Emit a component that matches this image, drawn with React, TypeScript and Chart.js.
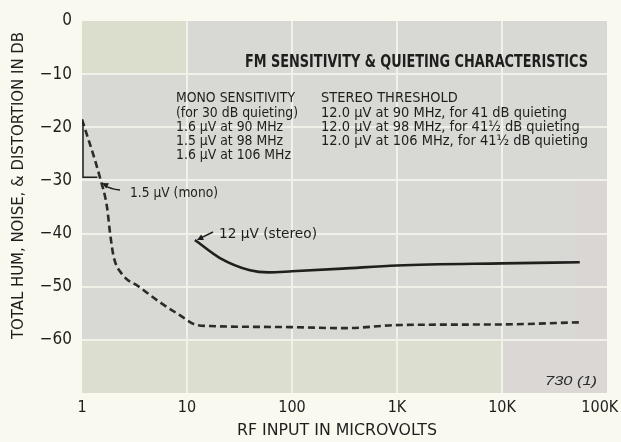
import React, { useEffect, useRef } from 'react';
import { Chart, registerables } from 'chart.js';

Chart.register(...registerables);

// ---- data ----
const xTickValues = [1, 10, 100, 1000, 10000, 100000];
const xTickLabels = ['1', '10', '100', '1K', '10K', '100K\u2003'];
const yTickValues = [0, -10, -20, -30, -40, -50, -60, -70];
const yTickLabels = ['0', '\u221210', '\u221220', '\u221230', '\u221240', '\u221250', '\u221260', ''];

const monoX = [1, 1.48, 1.73, 1.85, 2.0, 2.4, 3.49, 5.5, 8.6, 11.9, 16.6, 95, 317, 1066, 9500, 55000];
const monoY = [-18.5, -29.4, -35, -39.9, -44.3, -47.6, -50.0, -52.9, -55.4, -57.1, -57.4, -57.6, -57.8, -57.2, -57.1, -56.7];

const stereoX = [11.9, 20.6, 39.8, 60, 100, 300, 1000, 10000, 55000];
const stereoY = [-41.2, -44.6, -46.9, -47.3, -47.1, -46.6, -46.0, -45.6, -45.4];

const chartTitle = 'FM SENSITIVITY & QUIETING CHARACTERISTICS';
const monoNotes = [
  'MONO SENSITIVITY',
  '(for 30 dB quieting)',
  '1.6 \u00b5V at 90 MHz',
  '1.5 \u00b5V at 98 MHz',
  '1.6 \u00b5V at 106 MHz',
];
const stereoNotes = [
  'STEREO THRESHOLD',
  '12.0 \u00b5V at 90 MHz, for 41 dB quieting',
  '12.0 \u00b5V at 98 MHz, for 41\u00bd dB quieting',
  '12.0 \u00b5V at 106 MHz, for 41\u00bd dB quieting',
];
const monoLabel = '1.5 \u00b5V (mono)';
const stereoLabel = '12 \u00b5V (stereo)';
const figNumber = '730 (1)';
const xTitle = 'RF INPUT IN MICROVOLTS';
const yTitle = 'TOTAL HUM, NOISE, & DISTORTION IN DB';

const NARROW = "'Liberation Sans Narrow', 'DejaVu Sans Condensed', 'Arial Narrow', sans-serif";
const INK = '#1e1e1c';

function fitText(ctx: CanvasRenderingContext2D, text: string, x: number, y: number, font: string, targetW: number | null, scaleOverride?: number) {
  ctx.font = font;
  const w = ctx.measureText(text).width;
  const s = scaleOverride ?? (targetW ? targetW / w : 1);
  ctx.save();
  ctx.translate(x, y);
  ctx.scale(s, 1);
  ctx.textAlign = 'left';
  ctx.textBaseline = 'middle';
  ctx.fillText(text, 0, 0);
  ctx.restore();
}

function arrowHead(ctx: CanvasRenderingContext2D, fromX: number, fromY: number, toX: number, toY: number, size: number) {
  const ang = Math.atan2(toY - fromY, toX - fromX);
  ctx.beginPath();
  ctx.moveTo(toX, toY);
  ctx.lineTo(toX - size * Math.cos(ang - 0.45), toY - size * Math.sin(ang - 0.45));
  ctx.lineTo(toX - size * Math.cos(ang + 0.45), toY - size * Math.sin(ang + 0.45));
  ctx.closePath();
  ctx.fill();
}

const paperPlugin = {
  id: 'paper',
  beforeDraw(chart: any) {
    const { ctx, chartArea: a, scales } = chart;
    const xs = scales.x;
    const ys = scales.y;
    ctx.save();
    ctx.fillStyle = '#f9f9ef';
    ctx.fillRect(0, 0, chart.width, chart.height);
    ctx.fillStyle = '#d8d8d4';
    ctx.fillRect(a.left, a.top, a.right - a.left, a.bottom - a.top);
    const cell = (x0: number, x1: number, y0: number, y1: number, c: string) => {
      const px0 = xs.getPixelForValue(x0);
      const px1 = xs.getPixelForValue(x1);
      const py0 = ys.getPixelForValue(y0);
      const py1 = ys.getPixelForValue(y1);
      ctx.fillStyle = c;
      ctx.fillRect(px0, py0, px1 - px0, py1 - py0);
    };
    cell(1, 10, 0, -10, '#dcdecd');
    cell(1, 10000, -60, -70, '#dcdecf');
    cell(10000, 100000, -60, -70, '#dbd7d5');
    cell(50000, 100000, -30, -60, '#dad6d4');
    ctx.restore();
  },
  afterDraw(chart: any) {
    const { ctx, scales } = chart;
    const xs = scales.x;
    const ys = scales.y;
    ctx.save();
    ctx.fillStyle = INK;
    ctx.strokeStyle = INK;

    // chart title
    fitText(ctx, chartTitle, 245, 62, `bold 18px ${NARROW}`, 343);

    // note blocks
    const bodyFont = `14px ${NARROW}`;
    ctx.font = bodyFont;
    const sMono = 119 / ctx.measureText(monoNotes[0]).width;
    const sStereo = 267 / ctx.measureText(stereoNotes[3]).width;
    const lineYs = [98, 113, 127, 141, 155];
    monoNotes.forEach((t, i) => fitText(ctx, t, 176, lineYs[i], bodyFont, null, sMono));
    stereoNotes.forEach((t, i) => fitText(ctx, t, 321, lineYs[i], bodyFont, null, sStereo));

    // bracket for mono sensitivity
    ctx.lineWidth = 1.5;
    ctx.beginPath();
    const bx = xs.getPixelForValue(1) + 1;
    ctx.moveTo(bx, ys.getPixelForValue(-19));
    ctx.lineTo(bx, ys.getPixelForValue(-29.4));
    ctx.lineTo(xs.getPixelForValue(1.4), ys.getPixelForValue(-29.4));
    ctx.stroke();

    // mono label + arrow
    fitText(ctx, monoLabel, 130, 193, `14px ${NARROW}`, 88);
    ctx.lineWidth = 1.4;
    ctx.beginPath();
    const mhx = xs.getPixelForValue(1.55);
    const mhy = ys.getPixelForValue(-30.5);
    ctx.moveTo(120, 190);
    ctx.quadraticCurveTo(110, 189, mhx + 2, mhy + 2);
    ctx.stroke();
    arrowHead(ctx, 112, 188, mhx, mhy, 7);

    // stereo label + arrow
    fitText(ctx, stereoLabel, 219, 234, `14px ${NARROW}`, 98);
    const shx = xs.getPixelForValue(stereoX[0]) + 2;
    const shy = ys.getPixelForValue(stereoY[0]);
    ctx.beginPath();
    ctx.moveTo(213, 232);
    ctx.lineTo(shx + 3, shy - 1.5);
    ctx.stroke();
    arrowHead(ctx, 213, 232, shx, shy, 7);

    // figure number
    ctx.fillStyle = '#2a2a2a';
    fitText(ctx, figNumber, 545, 381, `italic 13px 'Liberation Sans', sans-serif`, 52);

    // axis titles
    ctx.fillStyle = INK;
    fitText(ctx, xTitle, 237, 431, `16px ${NARROW}`, 200);
    ctx.save();
    ctx.translate(19, 186);
    ctx.rotate(-Math.PI / 2);
    fitText(ctx, yTitle, -153, 0, `16px ${NARROW}`, 307);
    ctx.restore();

    ctx.restore();
  },
};

export default function App() {
  const ref = useRef<HTMLCanvasElement | null>(null);

  useEffect(() => {
    if (!ref.current) return;
    const gridColor = (edge: number[]) => (c: any) =>
      c.tick && edge.includes(c.tick.value) ? 'rgba(0,0,0,0)' : '#f1f1ea';
    const chart = new Chart(ref.current, {
      type: 'line',
      data: {
        datasets: [
          {
            label: 'Mono',
            data: monoX.map((x, i) => ({ x, y: monoY[i] })),
            borderColor: '#2b2b29',
            borderWidth: 2.6,
            borderDash: [7, 4],
            pointRadius: 0,
            cubicInterpolationMode: 'monotone',
            fill: false,
          },
          {
            label: 'Stereo',
            data: stereoX.map((x, i) => ({ x, y: stereoY[i] })),
            borderColor: '#1f1f1d',
            borderWidth: 2.6,
            pointRadius: 0,
            cubicInterpolationMode: 'monotone',
            fill: false,
          },
        ],
      },
      options: {
        responsive: false,
        animation: false,
        events: [],
        layout: { padding: { left: 0, right: 14, top: 21, bottom: 0 } },
        plugins: { legend: { display: false }, tooltip: { enabled: false }, title: { display: false } },
        scales: {
          x: {
            type: 'logarithmic',
            min: 1,
            max: 100000,
            afterBuildTicks: (s: any) => {
              s.ticks = xTickValues.map((v) => ({ value: v }));
            },
            afterFit: (s: any) => {
              s.height = 49;
              s.paddingLeft = 0;
              s.paddingRight = 0;
            },
            grid: { color: gridColor([1, 100000]), lineWidth: 2, drawTicks: false },
            border: { display: false },
            ticks: {
              autoSkip: false,
              maxRotation: 0,
              padding: 5,
              color: INK,
              font: { family: NARROW, size: 16 },
              callback: (v: any) => {
                const i = xTickValues.indexOf(Number(v));
                return i >= 0 ? xTickLabels[i] : '';
              },
            },
          },
          y: {
            type: 'linear',
            min: -70,
            max: 0,
            afterBuildTicks: (s: any) => {
              s.ticks = yTickValues.map((v) => ({ value: v }));
            },
            afterFit: (s: any) => {
              s.width = 82;
              s.paddingTop = 0;
              s.paddingBottom = 0;
            },
            grid: { color: gridColor([0, -70]), lineWidth: 2, drawTicks: false },
            border: { display: false },
            ticks: {
              padding: 10,
              color: INK,
              font: { family: NARROW, size: 17 },
              callback: (v: any) => {
                const i = yTickValues.indexOf(Number(v));
                return i >= 0 ? yTickLabels[i] : '';
              },
            },
          },
        },
      },
      plugins: [paperPlugin],
    } as any);
    return () => chart.destroy();
  }, []);

  return (
    <div style={{ position: 'fixed', left: 0, top: 0, width: 621, height: 442, background: '#f9f9ef' }}>
      <canvas ref={ref} width={621} height={442} style={{ display: 'block', width: 621, height: 442 }} />
    </div>
  );
}
